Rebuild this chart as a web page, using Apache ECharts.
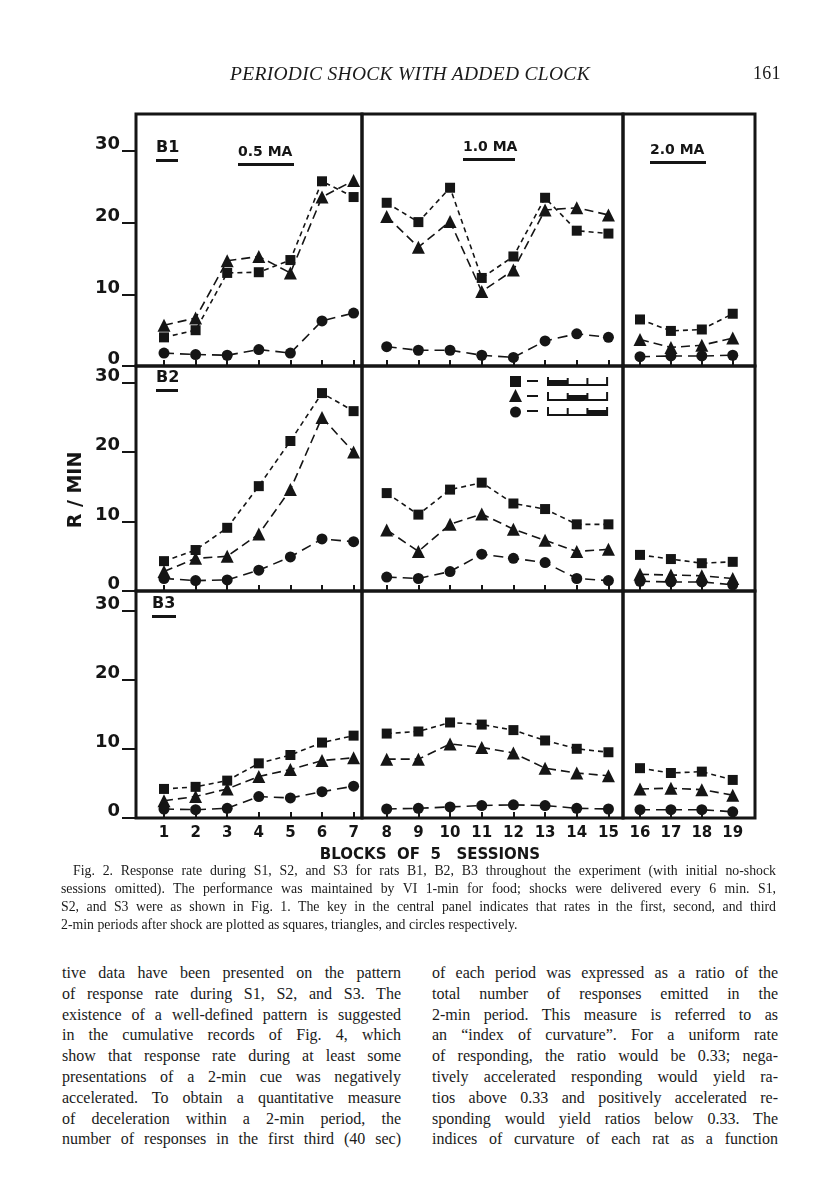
<!DOCTYPE html>
<html>
<head>
<meta charset="utf-8">
<script src="https://cdn.jsdelivr.net/npm/echarts@6/dist/echarts.min.js"></script>
<style>
body{margin:0;background:#fff;}
#page{position:relative;width:816px;height:1200px;overflow:hidden;background:#fff;}
#main{position:absolute;left:0;top:0;width:816px;height:880px;}
.serif{font-family:"Liberation Serif","DejaVu Serif",serif;color:#1a1a1a;}
.head{position:absolute;top:63px;font-style:italic;font-size:19.5px;letter-spacing:0.3px;}
.cap{position:absolute;left:61px;width:715px;top:862px;font-size:13.8px;line-height:18px;}
.col{position:absolute;top:963px;font-size:16px;line-height:20.8px;}
.j{text-align:justify;text-align-last:justify;}
</style>
</head>
<body>
<div id="page">
  <div id="main"></div>
  <div class="serif head" style="left:230px;">PERIODIC SHOCK WITH ADDED CLOCK</div>
  <div class="serif head" style="left:753px;font-style:normal;font-size:18px;">161</div>

  <div class="serif cap">
    <div class="j" style="padding-left:12px;">Fig. 2. Response rate during S1, S2, and S3 for rats B1, B2, B3 throughout the experiment (with initial no-shock</div>
    <div class="j">sessions omitted). The performance was maintained by VI 1-min for food; shocks were delivered every 6 min. S1,</div>
    <div class="j">S2, and S3 were as shown in Fig. 1. The key in the central panel indicates that rates in the first, second, and third</div>
    <div>2-min periods after shock are plotted as squares, triangles, and circles respectively.</div>
  </div>

  <div class="serif col" style="left:62px;width:339px;">
    <div class="j">tive data have been presented on the pattern</div>
    <div class="j">of response rate during S1, S2, and S3. The</div>
    <div class="j">existence of a well-defined pattern is suggested</div>
    <div class="j">in the cumulative records of Fig. 4, which</div>
    <div class="j">show that response rate during at least some</div>
    <div class="j">presentations of a 2-min cue was negatively</div>
    <div class="j">accelerated. To obtain a quantitative measure</div>
    <div class="j">of deceleration within a 2-min period, the</div>
    <div class="j">number of responses in the first third (40 sec)</div>
  </div>
  <div class="serif col" style="left:432px;width:346px;">
    <div class="j">of each period was expressed as a ratio of the</div>
    <div class="j">total number of responses emitted in the</div>
    <div class="j">2-min period. This measure is referred to as</div>
    <div class="j">an “index of curvature”. For a uniform rate</div>
    <div class="j">of responding, the ratio would be 0.33; nega-</div>
    <div class="j">tively accelerated responding would yield ra-</div>
    <div class="j">tios above 0.33 and positively accelerated re-</div>
    <div class="j">sponding would yield ratios below 0.33. The</div>
    <div class="j">indices of curvature of each rat as a function</div>
  </div>
</div>
<script>
// blocks of 5 sessions, split by shock intensity
var blocks = [[1, 2, 3, 4, 5, 6, 7], [8, 9, 10, 11, 12, 13, 14, 15], [16, 17, 18, 19]];
var shockLabels = ['0.5 MA', '1.0 MA', '2.0 MA'];
var rats = ['B1', 'B2', 'B3'];
var yTicks = [0, 10, 20, 30];

// R/MIN in first (squares), second (triangles), third (circles) 2-min period
var b1Squares = [4.0, 5.0, 13.0, 13.1, 14.8, 25.8, 23.6, 22.8, 20.1, 24.9, 12.3, 15.3, 23.5, 18.9, 18.5, 6.5, 4.9, 5.1, 7.3];
var b1Triangles = [5.7, 6.7, 14.7, 15.3, 13.0, 23.6, 25.9, 20.9, 16.6, 20.2, 10.4, 13.4, 21.8, 22.1, 21.1, 3.7, 2.6, 2.9, 3.9];
var b1Circles = [1.8, 1.6, 1.5, 2.3, 1.8, 6.3, 7.4, 2.7, 2.2, 2.2, 1.5, 1.2, 3.5, 4.5, 4.0, 1.3, 1.4, 1.4, 1.5];

var b2Squares = [4.3, 5.9, 9.1, 15.1, 21.6, 28.5, 25.9, 14.1, 11.0, 14.6, 15.6, 12.6, 11.8, 9.6, 9.6, 5.2, 4.6, 4.0, 4.2];
var b2Triangles = [2.8, 4.7, 5.0, 8.2, 14.6, 25.0, 20.0, 8.8, 5.7, 9.6, 11.1, 8.9, 7.3, 5.7, 6.0, 2.4, 2.3, 2.2, 1.8];
var b2Circles = [1.8, 1.5, 1.6, 3.0, 4.9, 7.5, 7.1, 2.0, 1.8, 2.8, 5.3, 4.7, 4.1, 1.8, 1.5, 1.4, 1.3, 1.3, 0.9];

var b3Squares = [4.2, 4.5, 5.4, 7.9, 9.1, 10.9, 11.9, 12.2, 12.5, 13.8, 13.5, 12.7, 11.2, 10.0, 9.5, 7.2, 6.5, 6.7, 5.5];
var b3Triangles = [2.5, 3.1, 4.2, 6.0, 7.0, 8.3, 8.7, 8.5, 8.5, 10.7, 10.2, 9.4, 7.2, 6.5, 6.1, 4.2, 4.3, 4.1, 3.3];
var b3Circles = [1.3, 1.2, 1.4, 3.1, 2.9, 3.8, 4.6, 1.3, 1.4, 1.6, 1.8, 1.9, 1.8, 1.4, 1.3, 1.2, 1.2, 1.2, 0.9];

var ratData = [
  [b1Squares, b1Triangles, b1Circles],
  [b2Squares, b2Triangles, b2Circles],
  [b3Squares, b3Triangles, b3Circles]
];

var ink = '#151515';
var colLeft = [136, 362, 623], colWidth = [226, 261, 132];
var xMin = [0.114, 7.22, 15.45], xMax = [7.266, 15.46, 19.72];
var rowTop = [114, 366, 591], rowHeight = [252, 225, 227];
var yMax = [35.2, 32.4, 32.8];
var marks = [
  { symbol: 'rect', size: 10, dash: [5, 4] },
  { symbol: 'triangle', size: 13, dash: [9, 5] },
  { symbol: 'circle', size: 11, dash: [10, 6] }
];
var labelFont = '"DejaVu Sans", sans-serif';

var grids = [], xAxes = [], yAxes = [], series = [];
for (var r = 0; r < 3; r++) {
  var offset = 0;
  for (var c = 0; c < 3; c++) {
    var gi = r * 3 + c;
    grids.push({
      left: colLeft[c], top: rowTop[r], width: colWidth[c], height: rowHeight[r],
      show: true, borderColor: ink, borderWidth: 3, backgroundColor: 'transparent'
    });
    xAxes.push({
      type: 'value', gridIndex: gi, min: xMin[c], max: xMax[c],
      axisLine: { show: false }, splitLine: { show: false },
      axisTick: { show: true, inside: true, length: 6, customValues: blocks[c], lineStyle: { color: ink, width: 2 } },
      axisLabel: {
        show: r === 2, customValues: blocks[c], margin: 8,
        color: ink, fontFamily: labelFont, fontSize: 15, fontWeight: 'bold'
      }
    });
    yAxes.push({
      type: 'value', gridIndex: gi, min: 0, max: yMax[r],
      axisLine: { show: false }, splitLine: { show: false },
      axisTick: { show: c === 0, length: 14, customValues: yTicks, lineStyle: { color: ink, width: 2 } },
      axisLabel: {
        show: c === 0, customValues: yTicks, margin: 16, verticalAlign: 'bottom', lineHeight: 13,
        color: ink, fontFamily: labelFont, fontSize: 18, fontWeight: 'bold'
      }
    });
    for (var m = 0; m < 3; m++) {
      var vals = ratData[r][m];
      series.push({
        type: 'line', xAxisIndex: gi, yAxisIndex: gi,
        data: blocks[c].map(function (b, k) { return [b, vals[offset + k]]; }),
        symbol: marks[m].symbol, symbolSize: marks[m].size, showSymbol: true,
        itemStyle: { color: ink },
        lineStyle: { color: ink, width: 1.6, type: marks[m].dash },
        silent: true, z: 3
      });
    }
    offset += blocks[c].length;
  }
}

// panel annotations
var graphic = [];
function label(text, x, y, size, uw) {
  graphic.push({ type: 'text', x: x, y: y, style: { text: text, font: 'bold ' + size + 'px ' + labelFont, fill: ink, align: 'left', verticalAlign: 'middle' } });
  graphic.push({ type: 'rect', shape: { x: x, y: y + 11, width: uw, height: 3 }, style: { fill: ink } });
}
label(rats[0], 156, 148, 16, 22);
label(rats[1], 156, 378, 16, 22);
label(rats[2], 152, 604, 16, 24);
label(shockLabels[0], 238, 152, 14, 56);
label(shockLabels[1], 463, 147, 14, 52);
label(shockLabels[2], 650, 150, 14, 56);

// key: which third of the 2-min period each symbol stands for
var keyRows = [381, 396, 411];
keyRows.forEach(function (ky, k) {
  var s = k === 0 ? { type: 'rect', shape: { x: 510, y: ky - 5, width: 11, height: 11 } }
        : k === 1 ? { type: 'polygon', shape: { points: [[515.5, ky - 7], [509, ky + 6], [522, ky + 6]] } }
        : { type: 'circle', shape: { cx: 515.5, cy: ky + 1, r: 5.5 } };
  s.style = { fill: ink };
  graphic.push(s);
  graphic.push({ type: 'line', shape: { x1: 527, y1: ky, x2: 538, y2: ky }, style: { stroke: ink, lineWidth: 2 } });
  var x0 = 548, seg = 19.7, base = ky + 4;
  graphic.push({ type: 'polyline', shape: { points: [[x0, base - 8], [x0, base], [x0 + 3 * seg, base], [x0 + 3 * seg, base - 8]] }, style: { stroke: ink, lineWidth: 2, fill: null } });
  graphic.push({ type: 'line', shape: { x1: x0 + seg, y1: base, x2: x0 + seg, y2: base - 7 }, style: { stroke: ink, lineWidth: 2 } });
  graphic.push({ type: 'line', shape: { x1: x0 + 2 * seg, y1: base, x2: x0 + 2 * seg, y2: base - 7 }, style: { stroke: ink, lineWidth: 2 } });
  graphic.push({ type: 'rect', shape: { x: x0 + k * seg, y: base - 5, width: seg, height: 5 }, style: { fill: ink } });
});

graphic.push({ type: 'text', x: 76, y: 490, rotation: Math.PI / 2,
  style: { text: 'R / MIN', font: 'bold 19px ' + labelFont, fill: ink, align: 'center', verticalAlign: 'middle' } });
graphic.push({ type: 'text', x: 430, y: 855,
  style: { text: 'BLOCKS  OF  5   SESSIONS', font: 'bold 15px ' + labelFont, fill: ink, align: 'center', verticalAlign: 'middle' } });

var myChart = echarts.init(document.getElementById('main'), null, { renderer: 'canvas' });
myChart.setOption({
  animation: false,
  backgroundColor: 'transparent',
  grid: grids,
  xAxis: xAxes,
  yAxis: yAxes,
  series: series,
  graphic: graphic
});
</script>
</body>
</html>
